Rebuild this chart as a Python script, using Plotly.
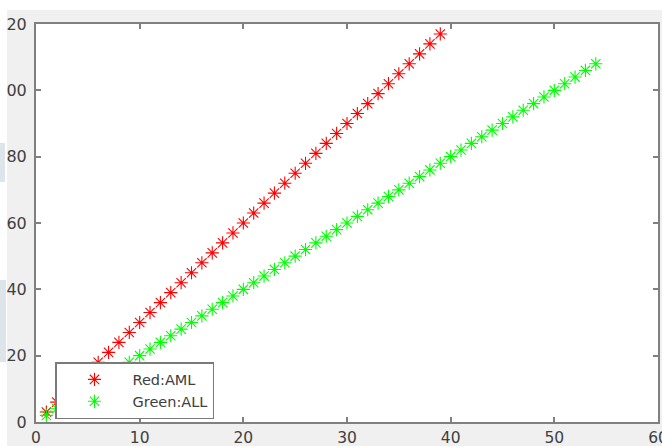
import plotly.graph_objects as go

# ---- data ----
red_x = list(range(1, 40))
red_y = [3, 6, 9, 12, 15, 18, 21, 24, 27, 30, 33, 36, 39, 42, 45, 48, 51, 54, 57, 60,
         63, 66, 69, 72, 75, 78, 81, 84, 87, 90, 93, 96, 99, 102, 105, 108, 111, 114, 117]
green_x = list(range(1, 55))
green_y = [2, 4, 6, 8, 10, 12, 14, 16, 18, 20, 22, 24, 26, 28, 30, 32, 34, 36, 38, 40,
           42, 44, 46, 48, 50, 52, 54, 56, 58, 60, 62, 64, 66, 68, 70, 72, 74, 76, 78, 80,
           82, 84, 86, 88, 90, 92, 94, 96, 98, 100, 102, 104, 106, 108]
x_tickvals = [0, 10, 20, 30, 40, 50, 60]
x_ticktext = ["0", "10", "20", "30", "40", "50", "60"]
y_tickvals = [0, 20, 40, 60, 80, 100, 120]
y_ticktext = ["0", "20", "40", "60", "80", "00", "20"]  # left digits cropped in the original
series_names = ["Red:AML", "Green:ALL"]

W, H = 662, 446
L, R, T, B = 36, 4, 24, 24
PW, PH = W - L - R, H - T - B


def px(xp):
    return (xp - L) / PW


def py(yp):
    return (H - B - yp) / PH


AX = "#808080"
YFONT = dict(family="DejaVu Sans", size=16, color="#404040")
XFONT = dict(family="DejaVu Sans", size=15.5, color="#404040")

fig = go.Figure()
fig.add_trace(go.Scatter(x=red_x, y=red_y, mode="markers", name=series_names[0],
                         marker=dict(symbol="asterisk-open", size=11,
                                     color="#ff0000", line=dict(color="#ff0000", width=1.1))))
fig.add_trace(go.Scatter(x=green_x, y=green_y, mode="markers", name=series_names[1],
                         marker=dict(symbol="asterisk-open", size=11,
                                     color="#00ff00", line=dict(color="#00ff00", width=1.1))))

shapes = [
    dict(type="rect", xref="paper", yref="paper", x0=px(0), x1=px(W), y0=py(10), y1=py(0),
         fillcolor="white", line=dict(width=0), layer="below"),
    dict(type="rect", xref="paper", yref="paper", x0=px(0), x1=px(7), y0=py(H), y1=py(0),
         fillcolor="white", line=dict(width=0), layer="below"),
    dict(type="rect", xref="paper", yref="paper", x0=px(0), x1=px(5), y0=py(182), y1=py(143),
         fillcolor="#dde4ea", line=dict(width=0), layer="below"),
    dict(type="rect", xref="paper", yref="paper", x0=px(0), x1=px(6), y0=py(362), y1=py(280),
         fillcolor="#dde4ea", line=dict(width=0), layer="below"),
]

axis_common = dict(showgrid=False, zeroline=False, showline=True, linecolor=AX, linewidth=2,
                   mirror="allticks", ticks="inside", ticklen=5, tickwidth=1.5, tickcolor=AX,
                   ticklabeloverflow="allow", automargin=False)

fig.update_layout(
    width=W, height=H,
    margin=dict(l=L, r=R, t=T, b=B, autoexpand=False),
    paper_bgcolor="#f0f0f0",
    plot_bgcolor="white",
    shapes=shapes,
    xaxis=dict(range=[0, 60], tickvals=x_tickvals, ticktext=x_ticktext,
               ticklabelstandoff=0, tickfont=XFONT, **axis_common),
    yaxis=dict(range=[0, 120], tickvals=y_tickvals, ticktext=y_ticktext,
               ticklabelstandoff=4, tickfont=YFONT, **axis_common),
    legend=dict(x=px(55), y=py(362), xanchor="left", yanchor="top",
                bgcolor="white", bordercolor="#7a7a7a", borderwidth=1.5,
                font=dict(family="DejaVu Sans", size=14.5, color="#404040"),
                itemwidth=66),
    showlegend=True,
)

fig.write_html("out.html")
